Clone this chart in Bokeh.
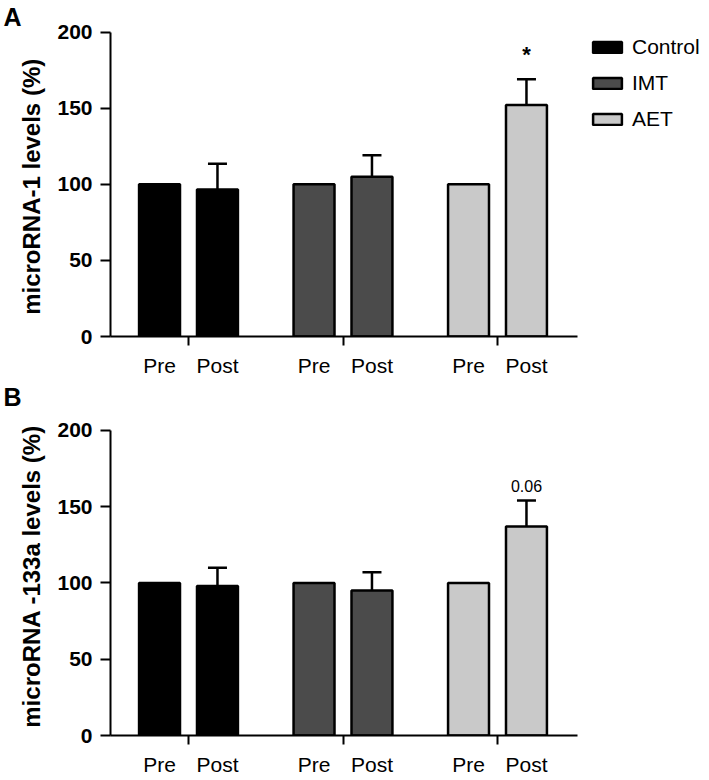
from bokeh.plotting import figure
from bokeh.layouts import column
from bokeh.models import (FixedTicker, Whisker, TeeHead, ColumnDataSource, Title,
                          Legend, LegendItem, Range1d)
from bokeh.embed import file_html
from bokeh.resources import INLINE
from bokeh.core.properties import value

# ---------------- data ----------------
groups = ["Control", "IMT", "AET"]
phases = ["Pre", "Post"]
group_colors = ["#000000", "#4b4b4b", "#c9c9c9"]
y_ticks = [0, 50, 100, 150, 200]

mir1_pre = [100, 100, 100]
mir1_post = [96.5, 105, 152]
mir1_post_sem = [17, 14, 17]
mir1_marks = ["", "", "*"]

mir133a_pre = [100, 100, 100]
mir133a_post = [98, 95, 137]
mir133a_post_sem = [12, 12, 17]
mir133a_marks = ["", "", "0.06"]

# ---------------- layout constants ----------------
FONT = "Liberation Sans"
FIG_W = 709
LEFT = 110
PX_X = 154.5          # pixels per group unit
OFF = 0.1875          # bar offset from group centre
BW = 0.265            # bar width
X_START = 1 - 78 / PX_X
X_END = X_START + (FIG_W - LEFT) / PX_X
AXIS_END = 3 + 80 / PX_X


def make_panel(letter, ylabel, pre, post, sem, marks, height, bot_b, y_end, mark_size,
               mark_style, mark_offset, with_legend):
    p = figure(width=FIG_W, height=height, output_backend="svg", toolbar_location=None,
               x_range=Range1d(X_START, X_END), y_range=Range1d(0, y_end),
               min_border_left=LEFT, min_border_right=0, min_border_top=0,
               min_border_bottom=bot_b)
    p.title = Title(text=letter, align="left", offset=-LEFT + 3, standoff=0,
                    text_font=FONT, text_font_size="25px", text_font_style="bold",
                    text_color="black")
    p.outline_line_color = None
    p.xgrid.visible = False
    p.ygrid.visible = False
    p.background_fill_color = "white"
    p.border_fill_color = "white"

    bar_xs, bar_labels, legend_items = [], {}, []
    wx, wlo, whi, mtxt = [], [], [], []
    for gi, g in enumerate(groups):
        c = gi + 1
        xs = [c - OFF, c + OFF]
        r = p.vbar(x=xs, top=[pre[gi], post[gi]], width=BW, bottom=0,
                   fill_color=group_colors[gi], line_color="black", line_width=2.5)
        legend_items.append(LegendItem(label=g, renderers=[r]))
        for x, ph in zip(xs, phases):
            bar_xs.append(x)
            bar_labels[x] = ph
        if sem[gi] > 0:
            wx.append(c + OFF)
            wlo.append(post[gi])
            whi.append(post[gi] + sem[gi])
            mtxt.append(marks[gi])

    src = ColumnDataSource(dict(base=wx, lower=wlo, upper=whi, mark=mtxt))
    wh = Whisker(base="base", lower="lower", upper="upper", source=src,
                 line_color="black", line_width=2.5,
                 upper_head=TeeHead(size=19, line_width=2.5, line_color="black"),
                 lower_head=None)
    p.add_layout(wh)
    p.text(x="base", y="upper", text="mark", source=src, text_align="center",
           text_baseline="bottom", y_offset=mark_offset, text_font=value(FONT),
           text_font_size=mark_size, text_font_style=mark_style, text_color="black")

    # y axis
    ya = p.yaxis[0]
    ya.ticker = FixedTicker(ticks=y_ticks)
    ya.bounds = (0, 200)
    ya.axis_line_width = 2
    ya.major_tick_line_width = 2
    ya.major_tick_out = 10
    ya.major_tick_in = 0
    ya.minor_tick_out = 0
    ya.major_label_standoff = 8
    ya.major_label_text_font = FONT
    ya.major_label_text_font_size = "21px"
    ya.major_label_text_font_style = "bold"
    ya.major_label_text_color = "black"
    ya.axis_label = ylabel
    ya.axis_label_text_font = FONT
    ya.axis_label_text_font_size = "24px"
    ya.axis_label_text_font_style = "bold"
    ya.axis_label_text_color = "black"
    ya.axis_label_standoff = 9

    # x axis
    xa = p.xaxis[0]
    xa.ticker = FixedTicker(ticks=bar_xs, minor_ticks=[gi + 1 for gi in range(len(groups))])
    xa.major_label_overrides = bar_labels
    xa.bounds = (X_START, AXIS_END)
    xa.axis_line_width = 2
    xa.major_tick_out = 0
    xa.major_tick_in = 0
    xa.minor_tick_out = 9
    xa.minor_tick_in = 0
    xa.minor_tick_line_width = 2
    xa.major_label_standoff = 8
    xa.axis_label_standoff = 0
    xa.major_label_text_font = FONT
    xa.major_label_text_font_size = "21px"
    xa.major_label_text_font_style = "normal"
    xa.major_label_text_color = "black"

    if with_legend:
        lg = Legend(items=legend_items, location=(479, 205),
                    glyph_width=36, glyph_height=14, label_standoff=7, spacing=12,
                    padding=1, margin=0, border_line_color=None,
                    background_fill_alpha=0, label_text_font=FONT,
                    label_text_font_size="21px", label_text_color="black")
        p.add_layout(lg)
    return p


pA = make_panel("A", "microRNA-1 levels  (%)", mir1_pre, mir1_post, mir1_post_sem,
                mir1_marks, 380, 44, 201, "22px", "bold", -12, True)
pB = make_panel("B", "microRNA -133a levels  (%)", mir133a_pre, mir133a_post,
                mir133a_post_sem, mir133a_marks, 399, 44, 213, "16px", "normal", -9, False)

layout = column(pA, pB, spacing=0)
open("out.html", "w").write(file_html(layout, INLINE))
